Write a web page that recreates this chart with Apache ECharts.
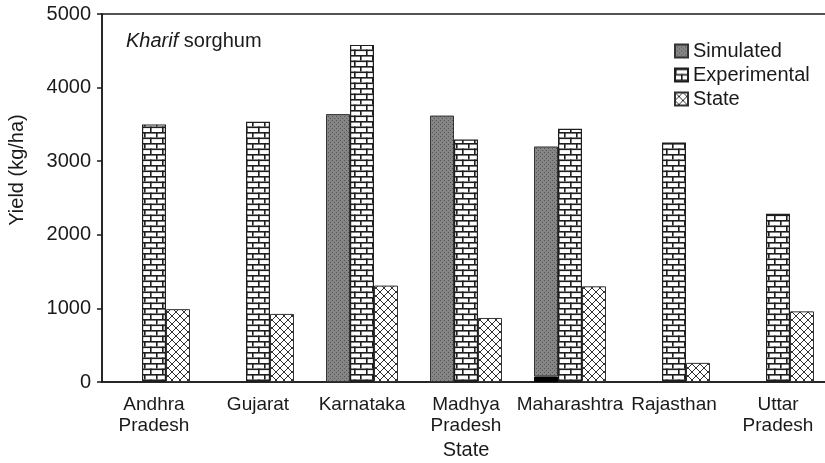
<!DOCTYPE html>
<html>
<head>
<meta charset="utf-8">
<script src="https://cdn.jsdelivr.net/npm/echarts@6/dist/echarts.min.js"></script>
<style>
  html, body { margin: 0; padding: 0; background: #fff; }
  #chart { width: 825px; height: 463px; }
</style>
</head>
<body>
<div id="chart"></div>
<script>
var states = ['Andhra\nPradesh', 'Gujarat', 'Karnataka', 'Madhya\nPradesh', 'Maharashtra', 'Rajasthan', 'Uttar\nPradesh'];
var simulated = ['-', '-', 3640, 3620, 3200, '-', '-'];
var simulatedBase = ['-', '-', '-', '-', 75, '-', '-']; // black strip at bottom of Maharashtra bar
var experimental = [3500, 3535, 4580, 3295, 3440, 3255, 2285];
var stateYield = [990, 925, 1310, 870, 1300, 260, 960];
var yTicks = [0, 1000, 2000, 3000, 4000, 5000];

// fill patterns
function makeTile(w, h, draw) {
  var c = document.createElement('canvas');
  c.width = w; c.height = h;
  draw(c.getContext('2d'));
  return { image: c, repeat: 'repeat' };
}
var stipple = makeTile(4, 4, function (g) {
  g.fillStyle = '#858585'; g.fillRect(0, 0, 4, 4);
  g.fillStyle = '#555';
  g.fillRect(0, 0, 1, 1); g.fillRect(2, 2, 1, 1);
});
var brick = makeTile(12, 11, function (g) {
  g.fillStyle = '#fff'; g.fillRect(0, 0, 12, 11);
  g.fillStyle = '#1e1e1e';
  g.fillRect(0, 0, 12, 1.6);
  g.fillRect(0, 5.5, 12, 1.6);
  g.fillRect(0, 0, 1.6, 5.5);
  g.fillRect(6, 5.5, 1.6, 5.5);
});
var hatch = makeTile(8, 8, function (g) {
  g.fillStyle = '#fff'; g.fillRect(0, 0, 8, 8);
  g.strokeStyle = '#333'; g.lineWidth = 1;
  g.beginPath();
  g.moveTo(0, 0); g.lineTo(8, 8);
  g.moveTo(8, 0); g.lineTo(0, 8);
  g.stroke();
});

var simTop = simulated.map(function (v, i) {
  if (v === '-') return '-';
  return simulatedBase[i] === '-' ? v : v - simulatedBase[i];
});

var font = 'Liberation Sans, Arial, sans-serif';
var chart = echarts.init(document.getElementById('chart'));
var option = {
  animation: false,
  textStyle: { fontFamily: font },
  grid: {
    left: 102, top: 14, width: 728, height: 368,
    outerBoundsMode: 'none',
    show: true, borderColor: '#1a1a1a', borderWidth: 1.5, backgroundColor: 'transparent'
  },
  legend: {
    data: ['Simulated', 'Experimental', 'State'],
    orient: 'vertical',
    left: 674, top: 41, padding: 0,
    itemWidth: 13, itemHeight: 13, itemGap: 4,
    icon: 'rect',
    textStyle: { fontSize: 20, color: '#1a1a1a', fontFamily: font }
  },
  graphic: [
    {
      type: 'text', left: 126, top: 31,
      style: {
        text: '{i|Kharif} sorghum',
        font: '20px ' + font, fill: '#1a1a1a',
        rich: { i: { fontStyle: 'italic', fontSize: 20, fontFamily: font } }
      }
    },
    {
      type: 'text', x: 17, y: 170, rotation: Math.PI / 2,
      style: {
        text: 'Yield (kg/ha)', font: '20px ' + font, fill: '#1a1a1a',
        align: 'center', verticalAlign: 'middle'
      }
    }
  ],
  xAxis: {
    type: 'category',
    data: states,
    name: 'State',
    nameLocation: 'middle',
    nameGap: 58,
    nameTextStyle: { fontSize: 20, color: '#1a1a1a' },
    axisLine: { lineStyle: { color: '#1a1a1a', width: 1.5 } },
    axisTick: { length: 5, lineStyle: { color: '#1a1a1a', width: 1.5 } },
    axisLabel: { fontSize: 19, color: '#1a1a1a', lineHeight: 21, margin: 12, interval: 0 }
  },
  yAxis: {
    type: 'value',
    min: yTicks[0], max: yTicks[yTicks.length - 1], interval: 1000,
    axisLine: { show: true, lineStyle: { color: '#1a1a1a', width: 1.5 } },
    axisTick: { show: true, length: 5, lineStyle: { color: '#1a1a1a', width: 1.5 } },
    axisLabel: { fontSize: 20, color: '#1a1a1a', margin: 11, formatter: function (v) { return String(v); } },
    splitLine: { show: false }
  },
  series: [
    {
      name: 'base', type: 'bar', stack: 'sim', data: simulatedBase,
      barWidth: 24, barGap: '0%',
      itemStyle: { color: '#000', borderColor: '#000', borderWidth: 1 }
    },
    {
      name: 'Simulated', type: 'bar', stack: 'sim', data: simTop,
      barWidth: 24, barGap: '0%',
      itemStyle: { color: stipple, borderColor: '#333', borderWidth: 1 }
    },
    {
      name: 'Experimental', type: 'bar', data: experimental,
      barWidth: 24, barGap: '0%',
      itemStyle: { color: brick, borderColor: '#1e1e1e', borderWidth: 1.2 }
    },
    {
      name: 'State', type: 'bar', data: stateYield,
      barWidth: 24, barGap: '0%',
      itemStyle: { color: hatch, borderColor: '#333', borderWidth: 1 }
    }
  ]
};
chart.setOption(option);
</script>
</body>
</html>
